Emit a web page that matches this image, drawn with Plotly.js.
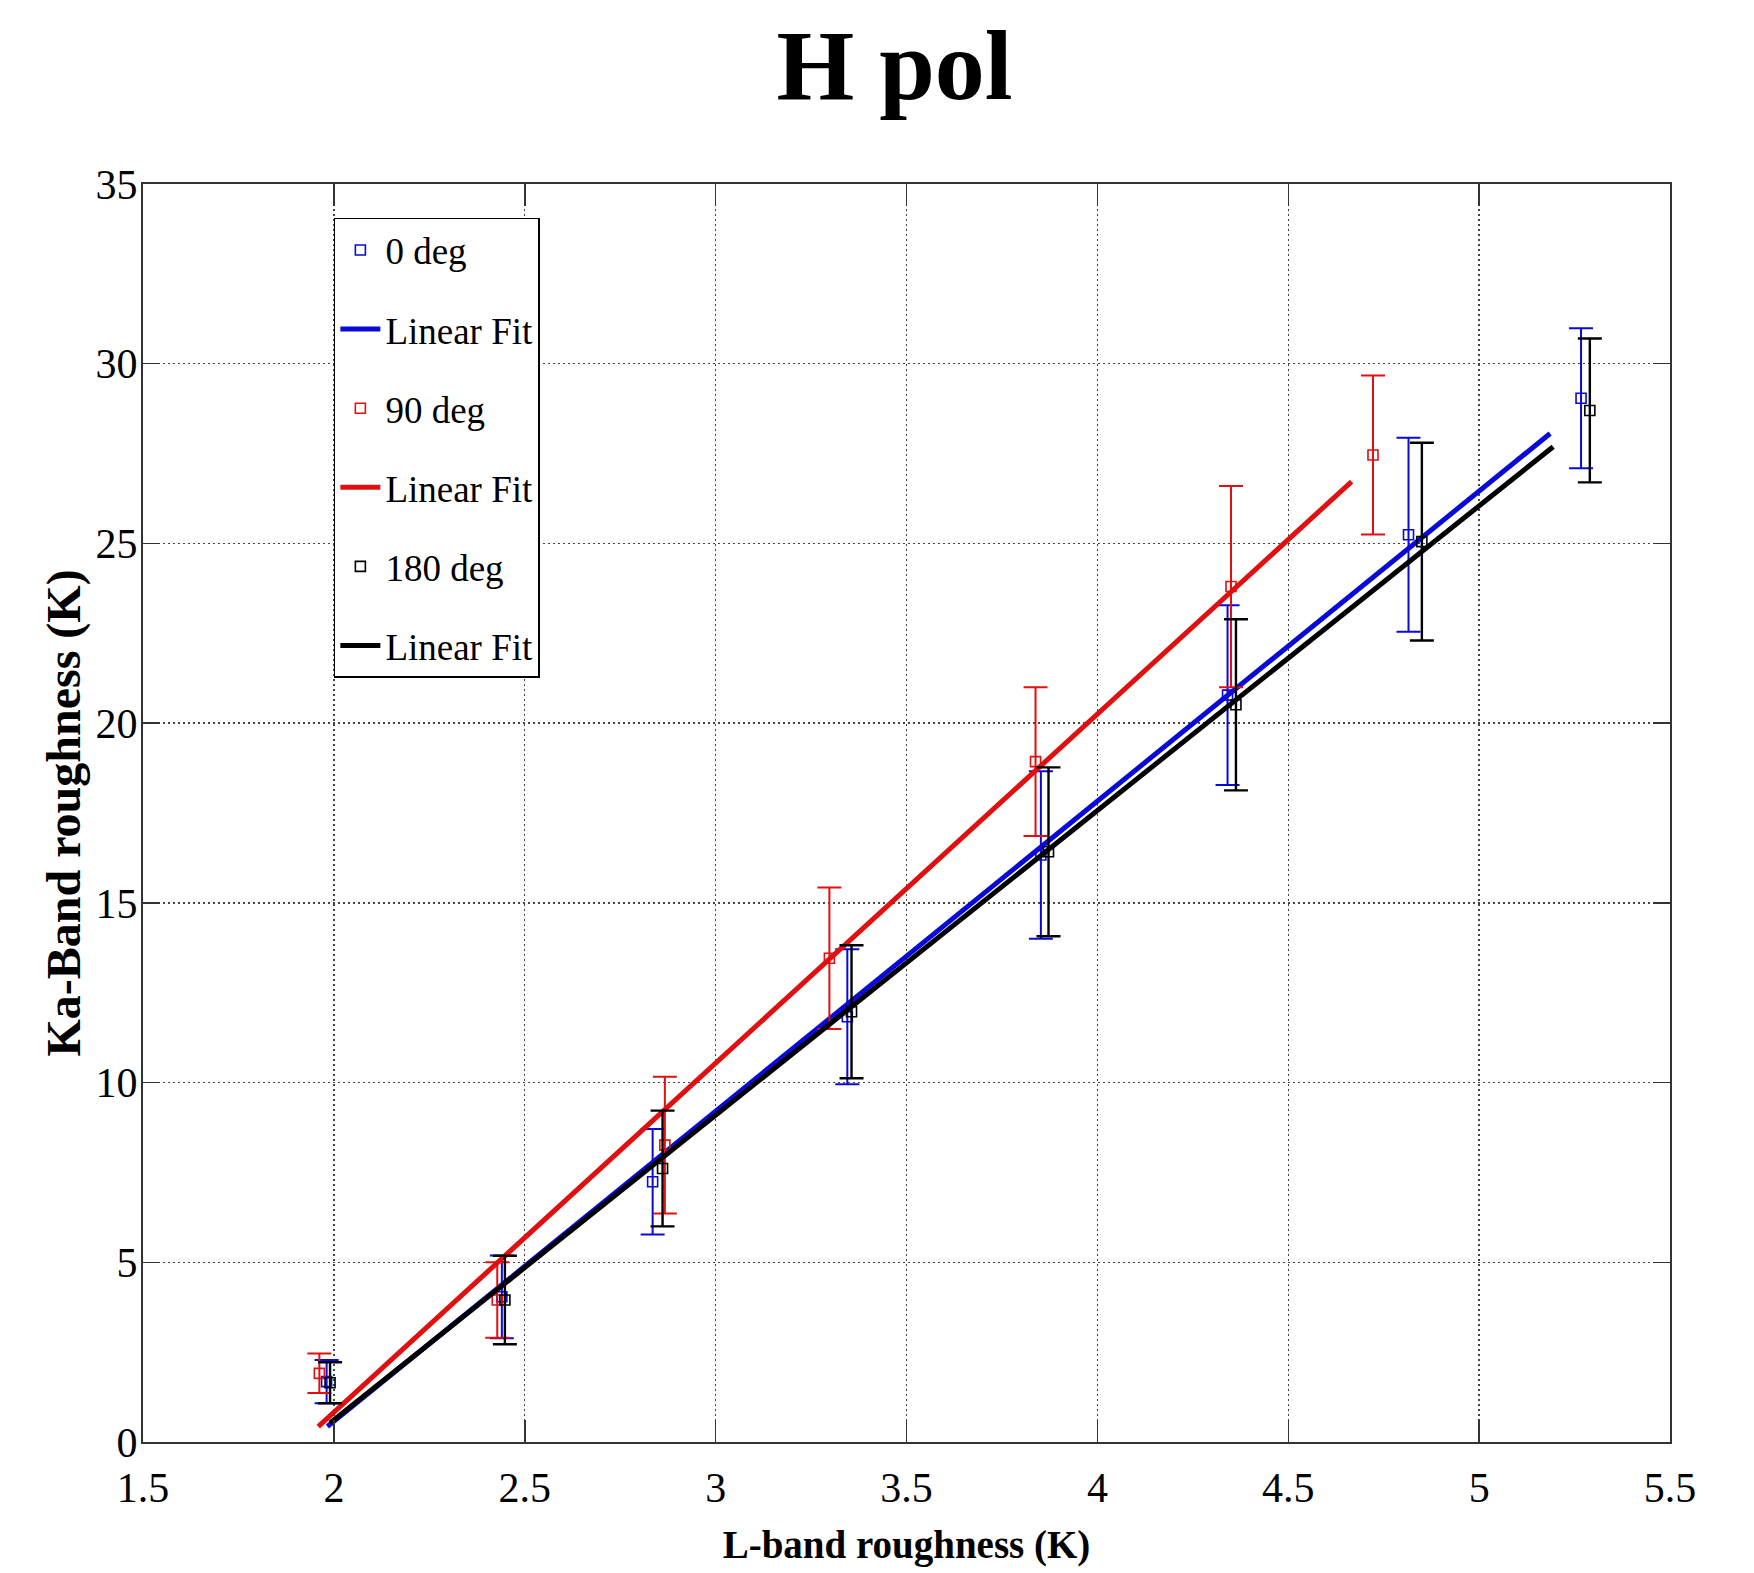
<!DOCTYPE html>
<html>
<head>
<meta charset="utf-8">
<script src="https://cdn.plot.ly/plotly-3.0.1.min.js"></script>
<style>html,body{margin:0;padding:0;background:#fff;}#chart{width:1754px;height:1573px;}</style>
</head>
<body>
<div id="chart"></div>
<script>
// ---- data ----
const x0deg = [1.981, 2.440, 2.835, 3.345, 3.852, 4.341, 4.815, 5.267];
const y0deg = [1.68, 4.04, 7.24, 11.83, 16.33, 20.78, 25.24, 29.04];
const err0deg = [0.60, 1.15, 1.47, 1.88, 2.33, 2.50, 2.70, 1.95];

const x90deg = [1.962, 2.428, 2.867, 3.298, 3.838, 4.350, 4.722];
const y90deg = [1.91, 3.95, 8.26, 13.46, 18.93, 23.80, 27.46];
const err90deg = [0.55, 1.05, 1.90, 1.97, 2.07, 2.80, 2.21];

const x180deg = [1.990, 2.448, 2.861, 3.356, 3.872, 4.363, 4.850, 5.290];
const y180deg = [1.65, 3.95, 7.61, 11.97, 16.42, 20.51, 25.05, 28.70];
const err180deg = [0.57, 1.23, 1.61, 1.85, 2.35, 2.38, 2.75, 2.00];

// linear-fit line end points
const fit0X = [1.983, 5.186];
const fit0Y = [0.43, 28.06];
const fit90X = [1.959, 4.666];
const fit90Y = [0.43, 26.72];
const fit180X = [1.990, 5.194];
const fit180Y = [0.53, 27.69];

const seriesNames = ['0 deg', 'Linear Fit', '90 deg', 'Linear Fit', '180 deg', 'Linear Fit'];
const xTicks = [1.5, 2, 2.5, 3, 3.5, 4, 4.5, 5, 5.5];
const xTickText = ['1.5', '2', '2.5', '3', '3.5', '4', '4.5', '5', '5.5'];
const yTicks = [0, 5, 10, 15, 20, 25, 30, 35];

const BLUE = '#0a0ad8', RED = '#e01010', BLACK = '#000000';
const SERIF = 'Liberation Serif, Times New Roman, serif';

function pts(x, y, e, color, name, grp, ew) {
  return {
    type: 'scatter', mode: 'markers', x: x, y: y, name: name,
    legendgroup: grp,
    marker: {symbol: 'square-open', size: 10, color: color, line: {width: 1.6, color: color}},
    error_y: {type: 'data', array: e, visible: true, color: color, thickness: ew, width: 12}
  };
}
function fit(x, y, color, name, grp) {
  return {
    type: 'scatter', mode: 'lines', x: x, y: y, name: name,
    legendgroup: grp,
    line: {color: color, width: 5}
  };
}

const data = [
  pts(x0deg, y0deg, err0deg, BLUE, seriesNames[0], 'g1', 2),
  fit(fit0X, fit0Y, BLUE, seriesNames[1], 'g2'),
  pts(x90deg, y90deg, err90deg, RED, seriesNames[2], 'g3', 2),
  fit(fit90X, fit90Y, RED, seriesNames[3], 'g4'),
  pts(x180deg, y180deg, err180deg, BLACK, seriesNames[4], 'g5', 2.4),
  fit(fit180X, fit180Y, BLACK, seriesNames[5], 'g6')
];

const axisCommon = {
  showline: true, linecolor: '#333', linewidth: 2, mirror: 'ticks',
  ticks: 'inside', tickwidth: 1.5, tickcolor: '#333',
  showgrid: true, gridcolor: '#444', gridwidth: 1.3, griddash: '2px,3px',
  zeroline: false,
  tickfont: {family: SERIF, size: 42, color: '#000'}
};

const layout = {
  width: 1754, height: 1573,
  paper_bgcolor: '#fff', plot_bgcolor: '#fff',
  margin: {l: 143, r: 84, t: 184, b: 131},
  showlegend: true,
  title: {
    text: '<b>H pol</b>', xref: 'container', x: 0.51, xanchor: 'center',
    yref: 'container', y: 0.959, yanchor: 'middle',
    font: {family: SERIF, size: 100, color: '#000'}
  },
  xaxis: Object.assign({}, axisCommon, {
    range: [1.5, 5.5], tickvals: xTicks, ticktext: xTickText, ticklen: 22,
    ticklabelstandoff: 8,
    title: {text: '<b>L-band roughness (K)</b>', font: {family: SERIF, size: 39, color: '#000'}, standoff: 20}
  }),
  yaxis: Object.assign({}, axisCommon, {
    range: [0, 35], tickvals: yTicks, ticklen: 17,
    ticklabelstandoff: -5,
    title: {text: '<b>Ka-Band roughness (K)</b>', font: {family: SERIF, size: 48, color: '#000'}, standoff: 0}
  }),
  legend: {
    x: 0.125, y: 0.973, xanchor: 'left', yanchor: 'top',
    bgcolor: '#fff', bordercolor: '#000', borderwidth: 1.5,
    font: {family: SERIF, size: 37, color: '#000'},
    itemwidth: 40,
    traceorder: 'grouped', tracegroupgap: 28
  }
};

Plotly.newPlot('chart', data, layout, {displayModeBar: false, staticPlot: true});
</script>
</body>
</html>
